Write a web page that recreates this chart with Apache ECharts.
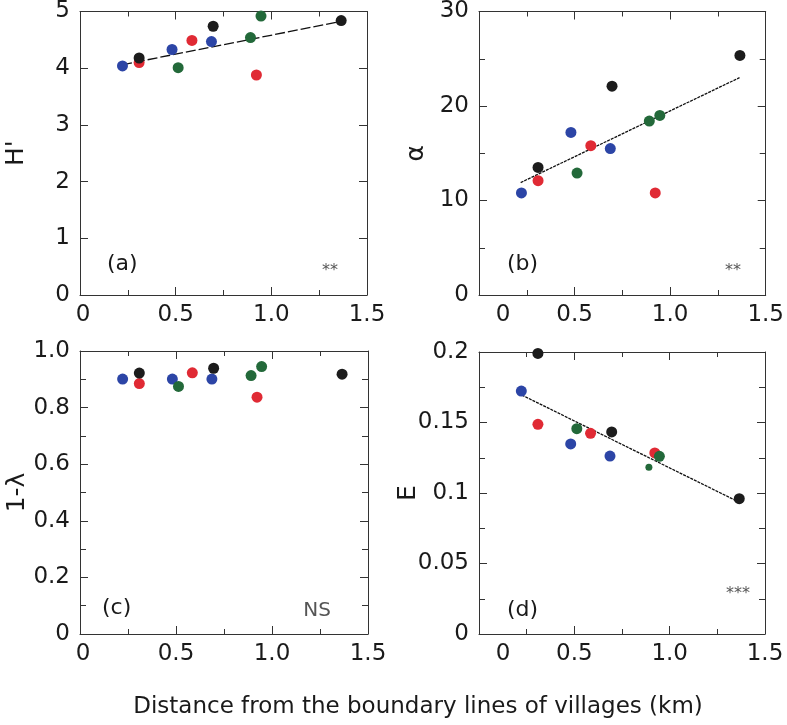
<!DOCTYPE html>
<html><head><meta charset="utf-8">
<script src="https://cdn.jsdelivr.net/npm/echarts@6/dist/echarts.min.js"></script>
<style>html,body{margin:0;padding:0;background:#fff}#c{width:787px;height:725px}</style>
</head><body><div id="c"></div>
<script>
// Distances (km) of sites, by group colour
const blueX  = [0.222, 0.481, 0.687];
const redX   = [0.309, 0.585, 0.922];
const greenX = [0.513, 0.891, 0.946];
const blackX = [0.309, 0.696, 1.365];

// (a) Shannon H'
const hBlue  = [4.04, 4.33, 4.47];
const hRed   = [4.10, 4.49, 3.88];
const hGreen = [4.01, 4.54, 4.92];
const hBlack = [4.18, 4.74, 4.84];
const hFitX  = [0.22, 1.37];
const hFitY  = [4.06, 4.83];

// (b) Fisher's alpha
const aBlue  = [10.8, 17.2, 15.5];
const aRed   = [12.1, 15.8, 10.8];
const aGreen = [12.9, 18.4, 19.0];
const aBlack = [13.5, 22.1, 25.35];
const aFitX  = [0.218, 1.363];
const aFitY  = [11.9, 23.0];

// (c) Simpson 1-lambda
const sBlue  = [0.901, 0.901, 0.901];
const sRed   = [0.885, 0.923, 0.837];
const sGreen = [0.875, 0.913, 0.945];
const sBlack = [0.922, 0.939, 0.918];

// (d) Evenness E
const eBlue  = [0.1723, 0.1348, 0.1262];
const eRed   = [0.1487, 0.1423, 0.1284];
const eGreen = [0.1456, 0.1182, 0.1260];
const eBlack = [0.199, 0.1433, 0.096];
const eFitX  = [0.224, 1.363];
const eFitY  = [0.1695, 0.0936];

const panelLabels = ['(a)', '(b)', '(c)', '(d)'];
const sigLabels = ['**', '**', 'NS', '***'];
const yNames = ["H'", 'α', '1-λ', 'E'];
const xName = 'Distance from the boundary lines of villages (km)';

const COLORS = {blue:'#2c45a6', red:'#e02a34', green:'#23693a', black:'#1c1c1c'};
const FONT = 'DejaVu Sans';
const TXT = '#1a1a1a';

const grids = [
  {left:80, top:11, width:287, height:284},
  {left:479, top:11, width:288, height:284},
  {left:80, top:351, width:288, height:283},
  {left:479, top:352, width:286, height:282}
];

const yCfg = [
  {min:0, max:5, interval:1, minor:false, fmt:v=>String(v), gap:51},
  {min:0, max:30, interval:10, minor:true, fmt:v=>String(v), gap:50},
  {min:0, max:1, interval:0.2, minor:true, fmt:v=>v===0?'0':v.toFixed(1), gap:50},
  {min:0, max:0.2, interval:0.05, minor:true, fmt:v=>v===0?'0':String(+v.toFixed(2)), gap:58}
];

const lineStyleAxis = {color:'#333', width:1};
function xAxisBottom(i){
  const shiftZero = (i===1 || i===3);
  return {
    type:'value', gridIndex:i, position:'bottom', min:0, max:1.5, interval:0.5,
    axisLine:{show:true, onZero:false, lineStyle:lineStyleAxis},
    axisTick:{show:true, inside:true, length:8, lineStyle:lineStyleAxis},
    minorTick:{show:true, splitNumber:2, length:5, lineStyle:lineStyleAxis},
    splitLine:{show:false}, minorSplitLine:{show:false},
    axisLabel:{show:true, margin:9, fontFamily:FONT, fontSize:23, color:TXT,
      formatter:v=> v===0 ? (shiftZero ? '{z|0}' : '{n|0}') : v.toFixed(1),
      rich:{z:{fontFamily:FONT, fontSize:23, color:TXT, padding:[0,0,0,48]},
            n:{fontFamily:FONT, fontSize:23, color:TXT, padding:[0,0,0,6]}}}
  };
}
function xAxisTop(i){
  return {
    type:'value', gridIndex:i, position:'top', min:0, max:1.5, interval:0.5,
    axisLine:{show:true, onZero:false, lineStyle:lineStyleAxis},
    axisTick:{show:true, inside:true, length:8, lineStyle:lineStyleAxis},
    minorTick:{show:true, splitNumber:2, length:5, lineStyle:lineStyleAxis},
    splitLine:{show:false}, axisLabel:{show:false}
  };
}
function yAxisLeft(i){
  const c = yCfg[i];
  return {
    type:'value', gridIndex:i, position:'left', min:c.min, max:c.max, interval:c.interval,
    name:yNames[i], nameLocation:'middle', nameGap:c.gap, nameRotate:90, nameMoveOverlap:false,
    nameTextStyle:{fontFamily:FONT, fontSize:25, color:TXT},
    axisLine:{show:true, onZero:false, lineStyle:lineStyleAxis},
    axisTick:{show:true, inside:true, length:8, lineStyle:lineStyleAxis},
    minorTick:{show:c.minor, splitNumber:2, length:6, lineStyle:lineStyleAxis},
    splitLine:{show:false},
    axisLabel:{show:true, margin:10, fontFamily:FONT, fontSize:23, color:TXT, formatter:c.fmt}
  };
}
function yAxisRight(i){
  const c = yCfg[i];
  return {
    type:'value', gridIndex:i, position:'right', min:c.min, max:c.max, interval:c.interval,
    axisLine:{show:true, onZero:false, lineStyle:lineStyleAxis},
    axisTick:{show:true, inside:true, length:8, lineStyle:lineStyleAxis},
    minorTick:{show:c.minor, splitNumber:2, length:6, lineStyle:lineStyleAxis},
    splitLine:{show:false}, axisLabel:{show:false}
  };
}

const zip = (xs, ys) => xs.map((x, k) => [x, ys[k]]);
function scatter(i, name, xs, ys, color, sizeFn){
  return {type:'scatter', name, xAxisIndex:i, yAxisIndex:i, data:zip(xs, ys),
    symbol:'circle', symbolSize: sizeFn || 11, itemStyle:{color, opacity:1}, z:5, silent:true};
}
function fit(i, xs, ys, dash){
  return {type:'line', xAxisIndex:i, yAxisIndex:i, data:zip(xs, ys), symbol:'none',
    lineStyle:{color:'#111', width:1.3, type:dash}, z:3, silent:true};
}

const panels = [
  [hBlue, hRed, hGreen, hBlack],
  [aBlue, aRed, aGreen, aBlack],
  [sBlue, sRed, sGreen, sBlack],
  [eBlue, eRed, eGreen, eBlack]
];
const series = [];
series.push(fit(0, hFitX, hFitY, [10,3]));
series.push(fit(1, aFitX, aFitY, [3,1]));
series.push(fit(3, eFitX, eFitY, [3,1]));
panels.forEach((p, i) => {
  series.push(scatter(i, 'blue', blueX, p[0], COLORS.blue));
  series.push(scatter(i, 'red', redX, p[1], COLORS.red));
  series.push(scatter(i, 'green', greenX, p[2], COLORS.green,
    i===3 ? ((v, prm) => prm.dataIndex===1 ? 7 : 11) : null));
  series.push(scatter(i, 'black', blackX, p[3], COLORS.black));
});

const labelPos = [[107,264],[507,264],[102,608],[507,610]];
const sigPos = [[330,263],[733,263],[317,611],[738,586]];
const graphics = [];
labelPos.forEach((p, i) => graphics.push({type:'text', x:p[0], y:p[1],
  style:{text:panelLabels[i], fontFamily:FONT, fontSize:22, fill:TXT, align:'left', verticalAlign:'middle'}}));
sigPos.forEach((p, i) => graphics.push({type:'text', x:p[0], y:p[1],
  style:{text:sigLabels[i], fontFamily:FONT, fontSize: i===2 ? 20 : 16, fill:'#555', align:'center',
    verticalAlign: i===2 ? 'middle' : 'top'}}));
graphics.push({type:'text', x:418, y:707, style:{text:xName, fontFamily:FONT, fontSize:23, fill:TXT,
  align:'center', verticalAlign:'middle'}});

const chart = echarts.init(document.getElementById('c'), null, {renderer:'canvas'});
chart.setOption({
  animation:false,
  backgroundColor:'#fff',
  grid: grids,
  xAxis: [0,1,2,3].map(xAxisBottom).concat([0,1,2,3].map(xAxisTop)),
  yAxis: [0,1,2,3].map(yAxisLeft).concat([0,1,2,3].map(yAxisRight)),
  series,
  graphic: graphics
});
</script></body></html>
